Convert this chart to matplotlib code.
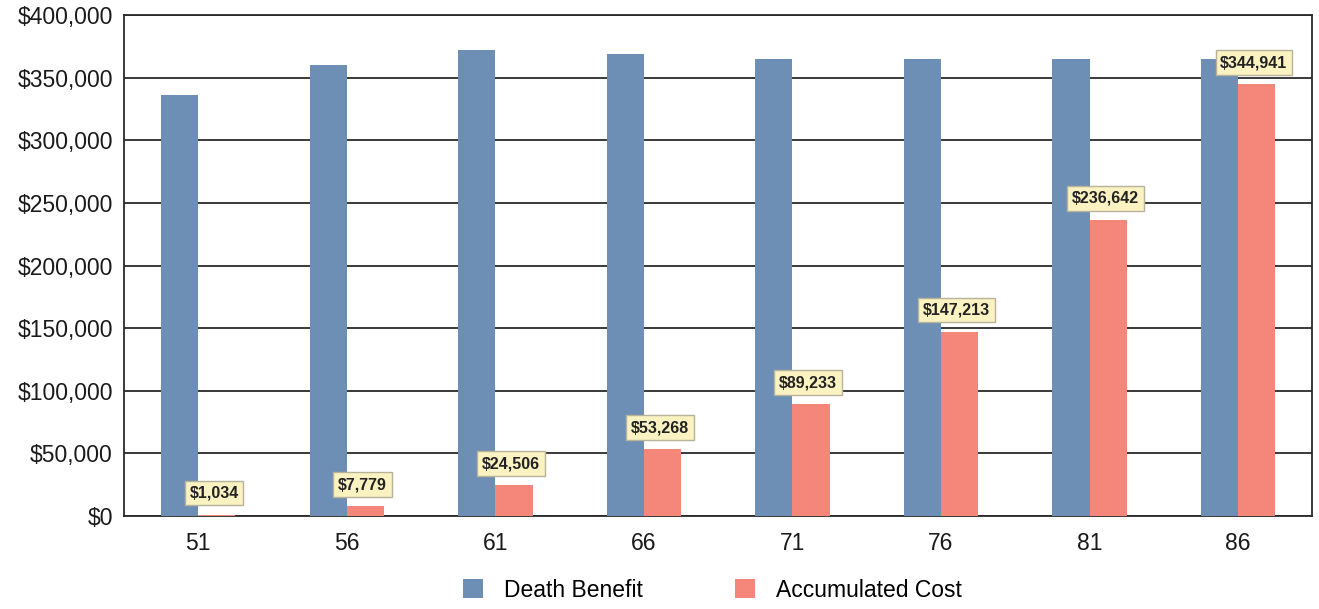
import numpy as np
import matplotlib.pyplot as plt
from matplotlib.ticker import FuncFormatter

plt.rcParams['font.family'] = ['Liberation Sans', 'DejaVu Sans']

# data
ages = ['51', '56', '61', '66', '71', '76', '81', '86']
death_benefit = [336000, 360000, 372000, 369000, 365000, 365000, 365000, 365000]
accum_cost = [1034, 7779, 24506, 53268, 89233, 147213, 236642, 344941]
cost_labels = ['$1,034', '$7,779', '$24,506', '$53,268', '$89,233',
               '$147,213', '$236,642', '$344,941']

blue = '#6e8fb5'
red = '#f4877a'

fig = plt.figure(figsize=(13.19, 6.09), dpi=100)
ax = fig.add_axes([0.094, 0.153, 0.901, 0.822])

x = np.arange(len(ages))
w = 0.25
ax.bar(x - w / 2, death_benefit, w, color=blue, label='Death Benefit', zorder=3)
ax.bar(x + w / 2, accum_cost, w, color=red, label='Accumulated Cost', zorder=3)

# labels above the cost bars
for xi, v, lab in zip(x, accum_cost, cost_labels):
    ax.annotate(lab, (xi + w / 2, v), xytext=(-2, 10), textcoords='offset points',
                ha='center', va='bottom', fontsize=11.5, fontweight='bold',
                color='#222222', zorder=5,
                bbox=dict(boxstyle='square,pad=0.3', facecolor='#fbf2c2',
                          edgecolor='#b8b29a', linewidth=1.0))

ax.set_xlim(-0.5, len(ages) - 0.5)
ax.set_ylim(0, 400000)
ax.set_yticks(np.arange(0, 400001, 50000))
ax.yaxis.set_major_formatter(FuncFormatter(lambda v, p: '${:,.0f}'.format(v)))
ax.set_xticks(x)
ax.set_xticklabels(ages)
ax.tick_params(axis='both', length=0, labelsize=16.5, colors='#1a1a1a')
ax.tick_params(axis='x', pad=12)
ax.tick_params(axis='y', pad=8)
ax.grid(axis='y', color='#2a2a2a', linewidth=1.3, zorder=1)
for s in ax.spines.values():
    s.set_color('#2a2a2a')
    s.set_linewidth(1.3)

fig.legend(loc='lower center', bbox_to_anchor=(0.54, -0.022), ncol=2, frameon=False,
           fontsize=16.5, handlelength=0.9, handleheight=0.9, columnspacing=4.0,
           handletextpad=0.9)

fig.savefig('out.png', dpi=100)
